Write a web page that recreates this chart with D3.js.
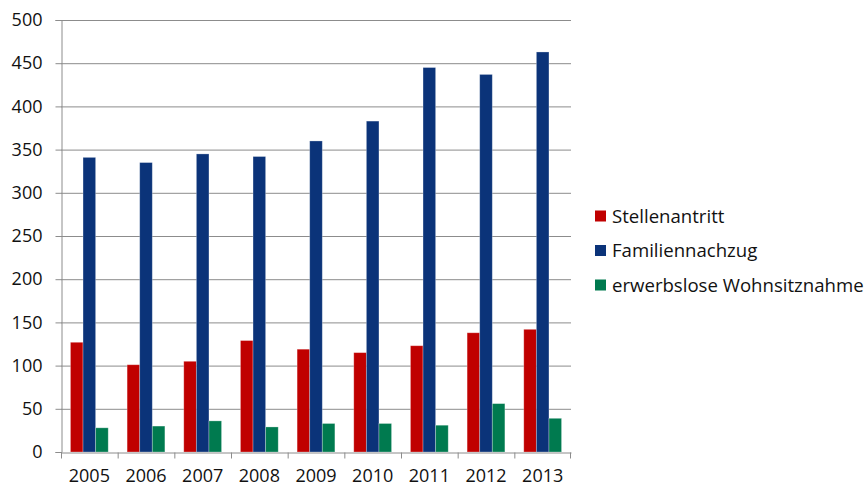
<!DOCTYPE html>
<html>
<head>
<meta charset="utf-8"/>
<style>
  body { margin: 0; background: white; }
  text { font-family: "Open Sans", sans-serif; fill: #111; }
</style>
</head>
<body>
<svg id="chart" width="866" height="487"></svg>
<script src="https://d3js.org/d3.v7.min.js"></script>
<script>
// data
const years = ["2005", "2006", "2007", "2008", "2009", "2010", "2011", "2012", "2013"];
const seriesNames = ["Stellenantritt", "Familiennachzug", "erwerbslose Wohnsitznahme"];
const stellenantritt = [127, 101, 105, 129, 119, 115, 123, 138, 142];
const familiennachzug = [341, 335, 345, 342, 360, 383, 445, 437, 463];
const erwerbslos = [28, 30, 36, 29, 33, 33, 31, 56, 39];
const yTicks = [0, 50, 100, 150, 200, 250, 300, 350, 400, 450, 500];
const colors = ["#c00000", "#0b3379", "#007a4f"];

const allValues = [stellenantritt, familiennachzug, erwerbslos];
const rows = years.map((y, i) => ({
  year: y,
  values: seriesNames.map((s, k) => ({ key: s, value: allValues[k][i] }))
}));

const svg = d3.select("#chart");
const plotLeft = 61, plotRight = 571, plotTop = 20, plotBottom = 452;
const fontSize = "18px";

const x = d3.scaleBand().domain(years).range([plotLeft, plotRight]).padding(0);
// gap width 150% => bars take 3/4.5 of the category
const gapFrac = 1.5 / 4.5 / 2;
const xs = d3.scaleBand().domain(seriesNames)
  .range([x.bandwidth() * gapFrac, x.bandwidth() * (1 - gapFrac)]).padding(0);
const y = d3.scaleLinear().domain([0, 500]).range([plotBottom, plotTop]);

// gridlines
svg.append("g")
  .selectAll("line")
  .data(yTicks.filter(d => d > 0))
  .enter().append("line")
  .attr("x1", plotLeft).attr("x2", plotRight)
  .attr("y1", d => y(d) + 0.5).attr("y2", d => y(d) + 0.5)
  .attr("stroke", "#8c8c8c").attr("stroke-width", 1);

// bars
const groups = svg.append("g")
  .selectAll("g")
  .data(rows)
  .enter().append("g")
  .attr("transform", d => `translate(${x(d.year)},0)`);

groups.selectAll("rect")
  .data(d => d.values)
  .enter().append("rect")
  .attr("x", d => xs(d.key))
  .attr("y", d => y(d.value))
  .attr("width", xs.bandwidth())
  .attr("height", d => y(0) - y(d.value))
  .attr("fill", (d, i) => colors[i])
  .attr("stroke", "rgba(255,255,255,0.35)")
  .attr("stroke-width", 0.8);

// y axis
const yAxis = svg.append("g")
  .attr("transform", `translate(${plotLeft + 0.5},0)`)
  .call(d3.axisLeft(y).tickValues(yTicks).tickSize(6).tickPadding(13));
yAxis.select(".domain").attr("stroke", "#8c8c8c");
yAxis.selectAll(".tick line").attr("stroke", "#8c8c8c");
yAxis.selectAll(".tick text").style("font-size", fontSize).style("font-family", "'Open Sans', sans-serif").attr("fill", "#111");

// x axis
const xAxis = svg.append("g")
  .attr("transform", `translate(0,${plotBottom + 0.5})`)
  .call(d3.axisBottom(x).tickSize(0).tickPadding(17));
xAxis.select(".domain").attr("stroke", "#8c8c8c");
xAxis.selectAll(".tick text").style("font-size", fontSize).style("font-family", "'Open Sans', sans-serif").attr("fill", "#111");
// tick marks at category boundaries
xAxis.append("g")
  .selectAll("line")
  .data(years.concat(["end"]))
  .enter().append("line")
  .attr("x1", (d, i) => i < years.length ? x(d) + 0.5 : plotRight - 0.5)
  .attr("x2", (d, i) => i < years.length ? x(d) + 0.5 : plotRight - 0.5)
  .attr("y1", 0).attr("y2", 6)
  .attr("stroke", "#8c8c8c");

// legend
const legend = svg.append("g")
  .selectAll("g")
  .data(seriesNames)
  .enter().append("g")
  .attr("transform", (d, i) => `translate(595,${216 + i * 34.5})`);
legend.append("rect")
  .attr("x", 0).attr("y", -5.5).attr("width", 11).attr("height", 11)
  .attr("fill", (d, i) => colors[i]);
legend.append("text")
  .attr("x", 17).attr("y", 0).attr("dy", "0.35em")
  .style("font-size", "18.6px")
  .text(d => d);
</script>
</body>
</html>
